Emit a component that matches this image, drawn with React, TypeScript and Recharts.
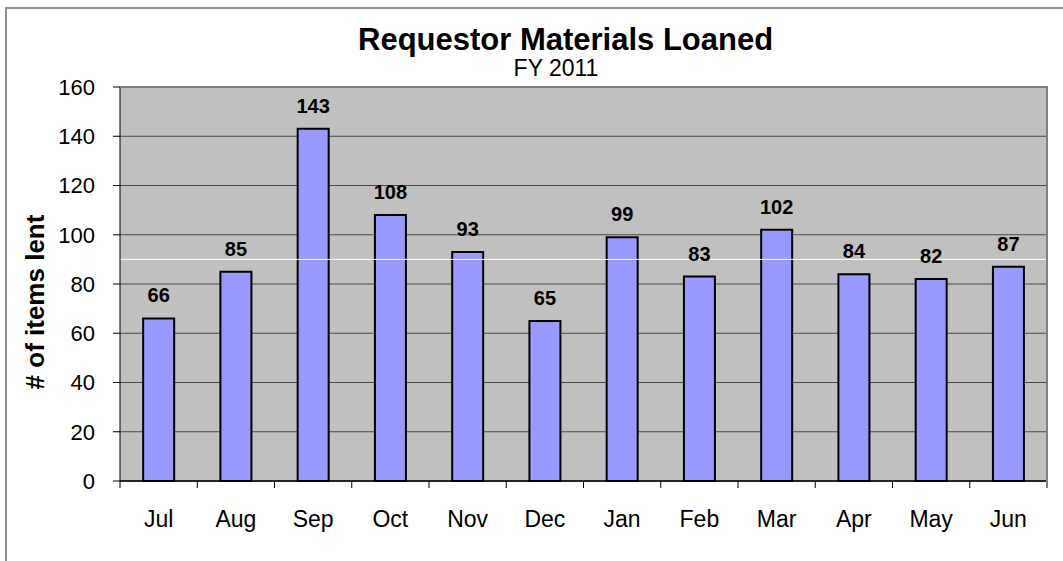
import { BarChart, Bar, XAxis, YAxis, CartesianGrid, ReferenceLine, LabelList } from "recharts";

const months = ["Jul", "Aug", "Sep", "Oct", "Nov", "Dec", "Jan", "Feb", "Mar", "Apr", "May", "Jun"];
const loaned = [66, 85, 143, 108, 93, 65, 99, 83, 102, 84, 82, 87];
const yTicks = [0, 20, 40, 60, 80, 100, 120, 140, 160];
const whiteLineAt = 90;

const data = months.map((m, i) => ({ month: m, value: loaned[i] }));

const FONT = "'Liberation Sans', Arial, sans-serif";

// category label plus tick marks at the band edges (Excel style)
const MonthTick = (props: any) => {
  const { x, y, payload, index } = props;
  const half = payload.offset || 0;
  const axisY = y - 30;
  return (
    <g>
      <line x1={x - half} x2={x - half} y1={axisY} y2={axisY + 7} stroke="#000" />
      {index === months.length - 1 && (
        <line x1={x + half} x2={x + half} y1={axisY} y2={axisY + 7} stroke="#000" />
      )}
      <text x={x} y={y} dy="0.71em" textAnchor="middle" fontSize={23} fill="#000" fontFamily={FONT}>
        {payload.value}
      </text>
    </g>
  );
};

export default function App() {
  return (
    <div style={{ position: "absolute", left: 0, top: 0, width: 1063, height: 561, background: "#fff", fontFamily: FONT, overflow: "hidden" }}>
      {/* outer chart border, only top/left visible */}
      <div style={{ position: "absolute", left: 5, top: 7, width: 1100, height: 600, borderLeft: "2px solid #8f8f8f", borderTop: "2px solid #8f8f8f" }} />
      <div style={{ position: "absolute", left: 358, top: 22, width: 400, textAlign: "center", fontSize: 31, fontWeight: 700, lineHeight: "36px", whiteSpace: "nowrap" }}>
        Requestor Materials Loaned
      </div>
      <div style={{ position: "absolute", left: 456, top: 55, width: 200, textAlign: "center", fontSize: 23, lineHeight: "27px" }}>
        FY 2011
      </div>
      <div
        style={{
          position: "absolute",
          left: 35,
          top: 302,
          transform: "translate(-50%, -50%) rotate(-90deg)",
          fontSize: 26,
          fontWeight: 700,
          whiteSpace: "nowrap",
        }}
      >
        # of items lent
      </div>
      <div style={{ position: "absolute", left: 0, top: 0 }}>
        <BarChart width={1063} height={561} data={data} margin={{ top: 87, right: 16, bottom: 20, left: 0 }} barCategoryGap="30%">
          <CartesianGrid vertical={false} fill="#C0C0C0" stroke="#4a4a4a" strokeOpacity={1} />
          <XAxis
            dataKey="month"
            height={60}
            axisLine={{ stroke: "#000", strokeWidth: 1.5 }}
            tickLine={false}
            tickSize={7}
            tickMargin={23}
            tick={<MonthTick />}
            interval={0}
          />
          <YAxis
            domain={[0, 160]}
            ticks={yTicks}
            width={120}
            axisLine={{ stroke: "#000" }}
            tickLine={{ stroke: "#000" }}
            tickSize={7}
            tickMargin={18}
            tick={{ fontSize: 22, fill: "#000", fontFamily: FONT }}
            interval={0}
          />
          <Bar dataKey="value" fill="#9999FF" stroke="#000" strokeWidth={2} isAnimationActive={false}>
            <LabelList dataKey="value" position="top" offset={16} style={{ fontSize: 20, fontWeight: 700, fill: "#000", fontFamily: FONT }} />
          </Bar>
          <ReferenceLine y={whiteLineAt} stroke="#fff" strokeWidth={1} />
        </BarChart>
      </div>
      {/* plot area border top/right */}
      <div style={{ position: "absolute", left: 120, top: 86, width: 926, height: 395, borderTop: "2px solid #808080", borderRight: "2px solid #808080", pointerEvents: "none" }} />
    </div>
  );
}
